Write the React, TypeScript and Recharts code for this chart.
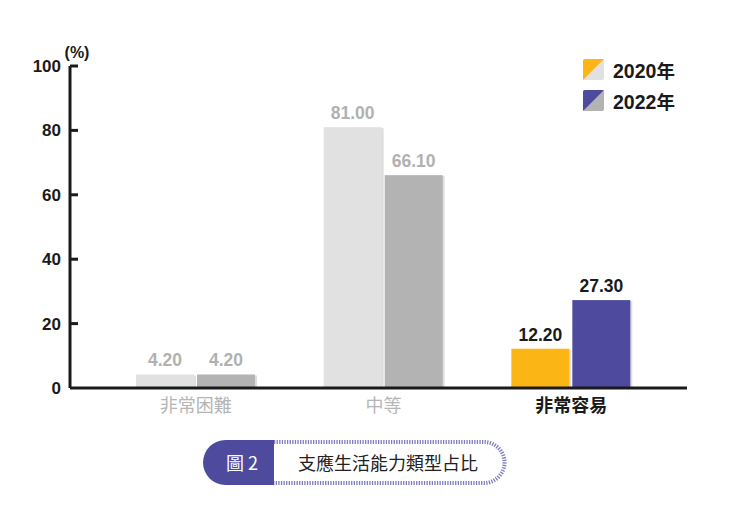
import { BarChart, Bar, XAxis, YAxis, Cell, LabelList } from "recharts";

const categories = ["非常困難", "中等", "非常容易"];
const values2020 = [4.2, 81.0, 12.2];
const values2022 = [4.2, 66.1, 27.3];
const yTicks = [0, 20, 40, 60, 80, 100];
const seriesNames = ["2020", "2022"];

const data = categories.map((name, i) => ({ name, y2020: values2020[i], y2022: values2022[i] }));

// first two groups are greyed out, last one highlighted
const fill2020 = ["#e1e1e2", "#e1e1e2", "#fbb615"];
const fill2022 = ["#b3b3b3", "#b3b3b3", "#4e4b9f"];
const labelColor = ["#b1b1b1", "#b1b1b1", "#1a1a1a"];

const latin = "'Liberation Sans', Arial, sans-serif";
const cjk = "'Noto Sans CJK TC', 'Noto Sans', sans-serif";

const ShadowBar = (props: any) => {
  const { x, y, width, height, fill } = props;
  if (!height || height <= 0) return null;
  return (
    <g>
      <rect x={x + 2} y={y + 1} width={width} height={height - 1} fill="rgba(0,0,0,0.13)" />
      <rect x={x} y={y} width={width} height={height} fill={fill} />
    </g>
  );
};

const YTick = (props: any) => {
  const { x, y, payload } = props;
  return (
    <g>
      {payload.value !== 0 && <line x1={x} x2={x + 8} y1={y} y2={y} stroke="#1a1a1a" strokeWidth={3} />}
      <text x={x - 9} y={y} dy={6} textAnchor="end" fontFamily={latin} fontWeight={700} fontSize={17} fill="#1a1a1a">
        {payload.value}
      </text>
    </g>
  );
};

const XTick = (props: any) => {
  const { x, y, payload, index } = props;
  const hi = index === 2;
  return (
    <text x={x} y={y} dy={16} textAnchor="middle" fontFamily={cjk} fontWeight={hi ? 700 : 400} fontSize={18} fill={hi ? "#1a1a1a" : "#b5b5b5"}>
      {payload.value}
    </text>
  );
};

const makeLabel = (key: string) => (props: any) => {
  const { x, y, width, index } = props;
  const v = data[index][key as "y2020" | "y2022"];
  return (
    <text x={x + width / 2} y={y - 8} textAnchor="middle" fontFamily={latin} fontWeight={700} fontSize={17.5} fill={labelColor[index]}>
      {v.toFixed(2)}
    </text>
  );
};

const App = () => {
  return (
    <div style={{ position: "relative", width: 740, height: 512, background: "#fff" }}>
      <style>{"body{margin:0}"}</style>
      <BarChart
        width={740}
        height={420}
        data={data}
        margin={{ top: 66, right: 53, left: 20, bottom: 2 }}
        barSize={58}
        barGap={3}
      >
        <XAxis
          dataKey="name"
          axisLine={{ stroke: "#1a1a1a", strokeWidth: 3 }}
          tickLine={false}
          tick={<XTick />}
          height={30}
          padding={{ left: 32, right: 22 }}
          interval={0}
        />
        <YAxis
          domain={[0, 100]}
          ticks={yTicks}
          width={50}
          axisLine={{ stroke: "#1a1a1a", strokeWidth: 3 }}
          tickLine={false}
          tickSize={0}
          tickMargin={0}
          tick={<YTick />}
          label={({ viewBox }: any) => (
            <text x={viewBox.x + viewBox.width + 7} y={viewBox.y - 8} textAnchor="middle" fontFamily={latin} fontWeight={700} fontSize={16} fill="#1a1a1a">
              (%)
            </text>
          )}
        />
        <Bar dataKey="y2020" name="2020年" isAnimationActive={false} shape={<ShadowBar />}>
          {data.map((_, i) => (
            <Cell key={i} fill={fill2020[i]} />
          ))}
          <LabelList content={makeLabel("y2020")} />
        </Bar>
        <Bar dataKey="y2022" name="2022年" isAnimationActive={false} shape={<ShadowBar />}>
          {data.map((_, i) => (
            <Cell key={i} fill={fill2022[i]} />
          ))}
          <LabelList content={makeLabel("y2022")} />
        </Bar>
      </BarChart>

      {/* legend */}
      <div style={{ position: "absolute", left: 583, top: 54 }}>
        {seriesNames.map((s, i) => (
          <div key={s} style={{ display: "flex", alignItems: "center", height: 31 }}>
            <svg width={21} height={21} style={{ marginRight: 9 }}>
              <rect x={0} y={0} width={21} height={21} rx={2} fill={i === 0 ? "#e1e1e2" : "#b3b3b3"} />
              <path d="M2,0 L21,0 L0,21 L0,2 Q0,0 2,0 Z" fill={i === 0 ? "#fbb615" : "#4e4b9f"} />
            </svg>
            <span style={{ fontWeight: 700, fontSize: 19.5, color: "#1a1a1a", fontFamily: latin }}>
              {s}
              <span style={{ fontFamily: cjk, fontSize: 18.5 }}>年</span>
            </span>
          </div>
        ))}
      </div>

      {/* figure caption badge */}
      <svg style={{ position: "absolute", left: 0, top: 0 }} width={740} height={512}>
        <path d="M274,442 L484,442 A20.5,20.5 0 0 1 484,483 L274,483" fill="none" stroke="#7f7cc1" strokeWidth={4} strokeDasharray="1.3 1.3" />
        <path d="M225.5,440 L274,440 L274,485 L225.5,485 A22.5,22.5 0 0 1 225.5,440 Z" fill="#4e4b9f" />
        <text x={242} y={470} textAnchor="middle" fontFamily={cjk} fontSize={18} fill="#fff">圖 2</text>
        <text x={388} y={470} textAnchor="middle" fontFamily={cjk} fontSize={18} fill="#222">支應生活能力類型占比</text>
      </svg>
    </div>
  );
};

export default App;
